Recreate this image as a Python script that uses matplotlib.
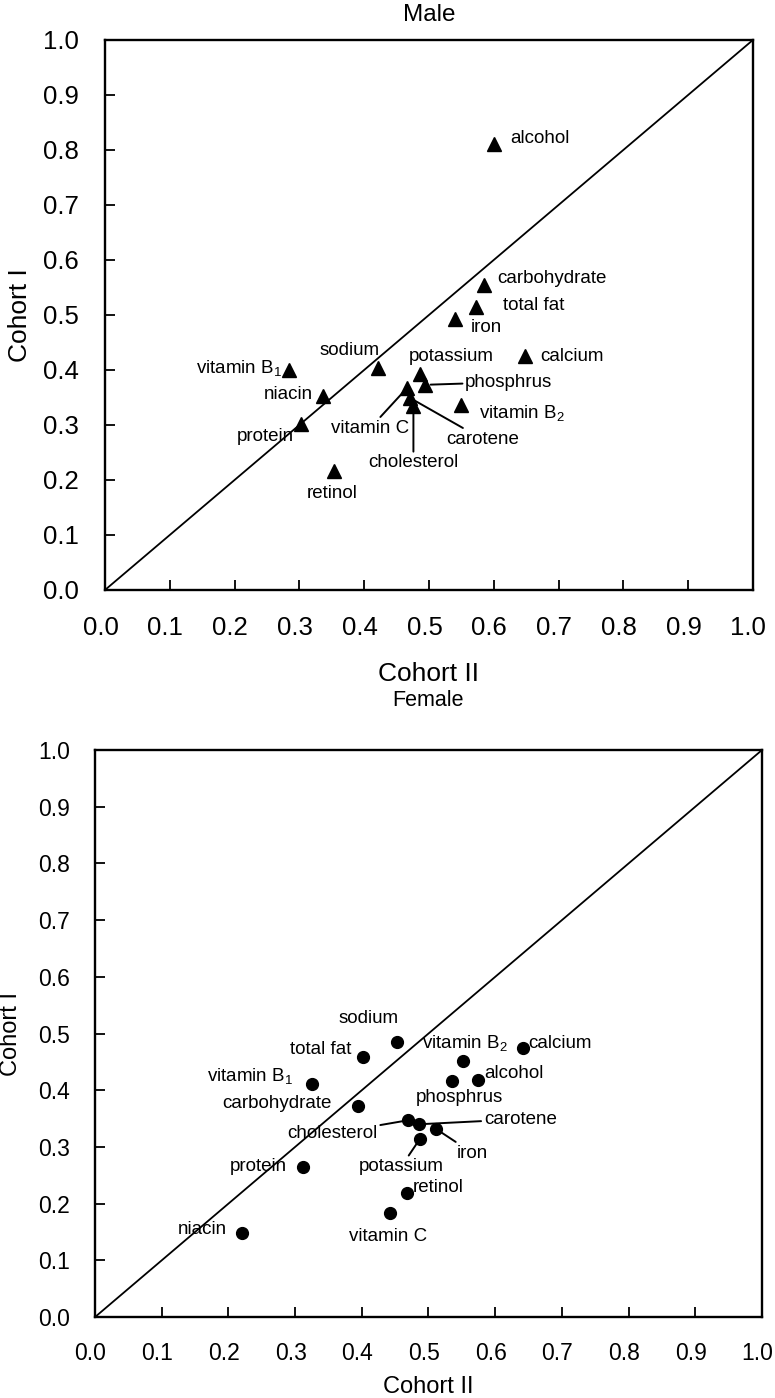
import matplotlib
matplotlib.use('Agg')
import numpy as np
import matplotlib.pyplot as plt
from matplotlib.transforms import ScaledTranslation

plt.rcParams['font.family'] = ['Liberation Sans', 'DejaVu Sans']
plt.rcParams['mathtext.fontset'] = 'custom'
plt.rcParams['mathtext.rm'] = 'Liberation Sans'
plt.rcParams['mathtext.it'] = 'Liberation Sans'
plt.rcParams['mathtext.default'] = 'rm'

# Male: correlation coefficients, cohort II (x) vs cohort I (y)
male_names = ['alcohol', 'carbohydrate', 'total fat', 'iron', 'calcium', 'potassium',
              'phosphrus', 'vitamin B$_2$', 'sodium', 'vitamin B$_1$', 'niacin', 'protein',
              'vitamin C', 'cholesterol', 'carotene', 'retinol']
male_c2 = [0.600, 0.585, 0.573, 0.540, 0.648, 0.486, 0.494, 0.549, 0.421, 0.284,
           0.336, 0.302, 0.466, 0.476, 0.471, 0.353]
male_c1 = [0.810, 0.555, 0.515, 0.493, 0.425, 0.393, 0.373, 0.336, 0.404, 0.400,
           0.353, 0.302, 0.367, 0.334, 0.349, 0.216]

# Female
female_names = ['sodium', 'total fat', 'vitamin B$_1$', 'carbohydrate', 'cholesterol',
                'potassium', 'protein', 'retinol', 'phosphrus', 'vitamin B$_2$', 'calcium',
                'alcohol', 'carotene', 'iron', 'niacin', 'vitamin C']
female_c2 = [0.453, 0.402, 0.325, 0.394, 0.469, 0.487, 0.312, 0.468, 0.535, 0.552,
             0.642, 0.574, 0.486, 0.511, 0.220, 0.443]
female_c1 = [0.485, 0.459, 0.411, 0.372, 0.347, 0.314, 0.265, 0.219, 0.416, 0.451,
             0.474, 0.418, 0.340, 0.332, 0.148, 0.183]

# label layout: (x, y, ha, leader line)
male_labels = {
    'alcohol': (0.625, 0.82, 'left', False),
    'carbohydrate': (0.606, 0.567, 'left', False),
    'total fat': (0.614, 0.518, 'left', False),
    'iron': (0.565, 0.478, 'left', False),
    'calcium': (0.671, 0.425, 'left', False),
    'potassium': (0.534, 0.425, 'center', False),
    'phosphrus': (0.556, 0.378, 'left', True),
    'vitamin B$_2$': (0.577, 0.322, 'left', False),
    'sodium': (0.378, 0.435, 'center', False),
    'vitamin B$_1$': (0.273, 0.404, 'right', False),
    'niacin': (0.321, 0.355, 'right', False),
    'protein': (0.292, 0.279, 'right', False),
    'vitamin C': (0.409, 0.294, 'center', True),
    'cholesterol': (0.476, 0.231, 'center', True),
    'carotene': (0.583, 0.274, 'center', True),
    'retinol': (0.350, 0.176, 'center', False),
}
female_labels = {
    'sodium': (0.410, 0.527, 'center', False),
    'total fat': (0.385, 0.471, 'right', False),
    'vitamin B$_1$': (0.297, 0.425, 'right', False),
    'carbohydrate': (0.355, 0.376, 'right', False),
    'cholesterol': (0.356, 0.324, 'center', True),
    'potassium': (0.459, 0.265, 'center', True),
    'protein': (0.288, 0.266, 'right', False),
    'retinol': (0.477, 0.228, 'left', False),
    'phosphrus': (0.547, 0.388, 'center', False),
    'vitamin B$_2$': (0.490, 0.483, 'left', False),
    'calcium': (0.649, 0.483, 'left', False),
    'alcohol': (0.583, 0.430, 'left', False),
    'carotene': (0.583, 0.349, 'left', True),
    'iron': (0.543, 0.289, 'left', True),
    'niacin': (0.198, 0.155, 'right', False),
    'vitamin C': (0.440, 0.142, 'center', False),
}

ticks = np.round(np.arange(0, 1.01, 0.1), 1)

fig = plt.figure(figsize=(7.75, 13.98), dpi=100)
ax1 = fig.add_axes([0.1355, 0.578, 0.836, 0.3934])
ax2 = fig.add_axes([0.1226, 0.0579, 0.8606, 0.4056])


def draw_panel(ax, names, c2, c1, labels, marker, ms, title, title_y, tick_fs, lab_fs, pad):
    ax.plot([0, 1], [0, 1], color='black', lw=1.3, zorder=1)
    ax.plot(c2, c1, linestyle='none', marker=marker, color='black', ms=ms, zorder=3)
    for name, x, y in zip(names, c2, c1):
        tx, ty, ha, line = labels[name]
        if line:
            ax.annotate(name, xy=(x, y), xytext=(tx, ty), ha=ha, va='center', fontsize=13.5,
                        arrowprops=dict(arrowstyle='-', color='black', lw=1.4,
                                        shrinkA=0, shrinkB=4))
        else:
            ax.text(tx, ty, name, ha=ha, va='center', fontsize=13.5)
    ax.set_xlim(0, 1)
    ax.set_ylim(0, 1)
    ax.set_xticks(ticks)
    ax.set_yticks(ticks)
    ax.set_xticklabels([f'{t:.1f}' for t in ticks])
    ax.set_yticklabels([f'{t:.1f}' for t in ticks])
    ax.tick_params(direction='in', length=7, width=1.3, labelsize=tick_fs, pad=pad)
    # labels in the original sit a few pixels left of their ticks
    shift = ScaledTranslation(-0.045, 0, fig.dpi_scale_trans)
    for lab in ax.get_xticklabels():
        lab.set_transform(lab.get_transform() + shift)
    for s in ax.spines.values():
        s.set_linewidth(1.7)
    ax.set_xlabel('Cohort II', fontsize=lab_fs)
    ax.set_ylabel('Cohort I', fontsize=lab_fs)
    ax.text(0.5, title_y, title, transform=ax.transAxes, ha='center', va='center',
            fontsize=lab_fs - 1.5)


draw_panel(ax1, male_names, male_c2, male_c1, male_labels, '^', 10, 'Male', 1.045, 18.5, 19, 19)
draw_panel(ax2, female_names, female_c2, female_c1, female_labels, 'o', 8.5, 'Female', 1.088,
           16.5, 17, 18)

ax1.xaxis.set_label_coords(0.5, -0.131)
ax1.yaxis.set_label_coords(-0.113, 0.5)
ax2.xaxis.set_label_coords(0.5, -0.104)
ax2.yaxis.set_label_coords(-0.109, 0.5)

fig.savefig('out.png', dpi=100)
